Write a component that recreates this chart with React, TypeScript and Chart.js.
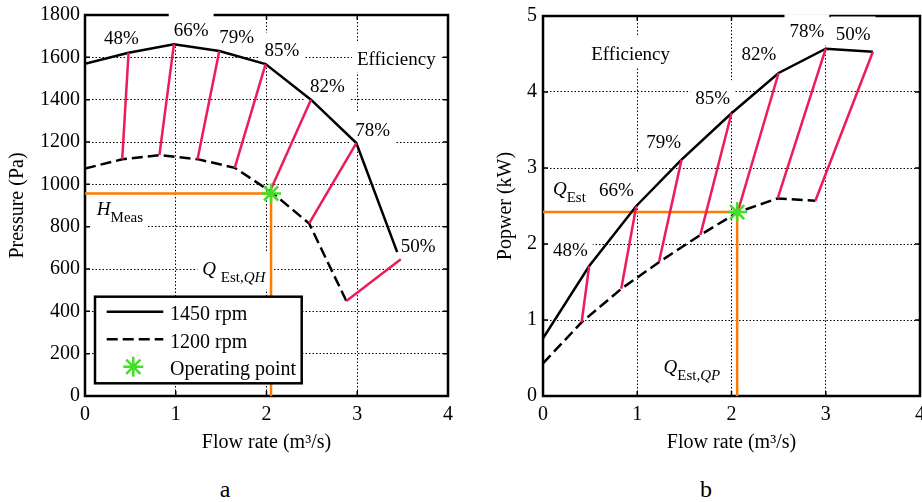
import React, { useEffect, useRef } from 'react';
import { Chart, registerables } from 'chart.js';
Chart.register(...registerables);

const SERIF = '"Liberation Serif", "Times New Roman", Times, serif';
const RED = 'rgb(236,28,88)';
const ORANGE = 'rgb(255,122,0)';
const GREEN = 'rgb(66,222,40)';

// ---------- shared ----------
const flowTicks = [0, 1, 2, 3, 4];
const effLabels = ['48%', '66%', '79%', '85%', '82%', '78%', '50%'];

// ---------- panel a : pressure ----------
const pressureTicks = [0, 200, 400, 600, 800, 1000, 1200, 1400, 1600, 1800];
const pQ1450 = [0, 0.48, 0.98, 1.48, 1.99, 2.49, 2.99, 3.44];
const pH1450 = [1570, 1622, 1662, 1630, 1568, 1400, 1195, 680];
const pQ1200 = [0, 0.41, 0.82, 1.24, 1.65, 2.05, 2.47, 2.88];
const pH1200 = [1075, 1118, 1138, 1119, 1078, 965, 815, 449];
const pEffTopQ = [0.48, 0.98, 1.48, 1.99, 2.49, 2.99, 3.48];
const pEffTopH = [1622, 1662, 1630, 1568, 1400, 1195, 646];
const pEffBotQ = [0.41, 0.82, 1.24, 1.65, 2.05, 2.47, 2.88];
const pEffBotH = [1118, 1138, 1119, 1078, 978, 815, 449];
const pEffLabelQ = [0.40, 1.17, 1.67, 2.17, 2.67, 3.17, 3.67];
const pEffLabelH = [1691, 1729, 1697, 1635, 1464, 1260, 712];
const pOpQ = [2.05];
const pOpH = [957];

// ---------- panel b : power ----------
const powerTicks = [0, 1, 2, 3, 4, 5];
const wQ1450 = [0, 0.49, 0.99, 1.47, 2.0, 2.5, 3.0, 3.5];
const wP1450 = [0.76, 1.71, 2.5, 3.11, 3.72, 4.25, 4.57, 4.53];
const wQ1200 = [0, 0.41, 0.83, 1.23, 1.67, 2.07, 2.49, 2.89];
const wP1200 = [0.43, 0.97, 1.41, 1.76, 2.12, 2.42, 2.60, 2.57];
const wEffTopQ = [0.49, 0.99, 1.47, 2.0, 2.5, 3.0, 3.5];
const wEffTopP = [1.71, 2.5, 3.11, 3.72, 4.25, 4.57, 4.53];
const wEffBotQ = [0.41, 0.83, 1.23, 1.67, 2.07, 2.49, 2.89];
const wEffBotP = [0.97, 1.41, 1.76, 2.12, 2.44, 2.60, 2.57];
const wEffLabelQ = [0.29, 0.78, 1.28, 1.80, 2.29, 2.80, 3.29];
const wEffLabelP = [1.92, 2.72, 3.34, 3.93, 4.51, 4.80, 4.77];
const wOpQ = [2.06];
const wOpP = [2.42];

type Part = { t: string; i?: boolean; s?: boolean };
type Label = { parts: Part[]; x: number; y: number; size: number };

const pLabels: Label[] = [
  ...effLabels.map((t, k) => ({ parts: [{ t }], x: pEffLabelQ[k], y: pEffLabelH[k], size: 19 })),
  { parts: [{ t: 'Efficiency' }], x: 3.43, y: 1595, size: 19 },
  { parts: [{ t: 'H', i: true }, { t: 'Meas', s: true }], x: 0.385, y: 883, size: 19 },
  { parts: [{ t: 'Q ', i: true }, { t: 'Est,', s: true }, { t: 'QH', s: true, i: true }], x: 1.64, y: 603, size: 19 },
];
const wLabels: Label[] = [
  ...effLabels.map((t, k) => ({ parts: [{ t }], x: wEffLabelQ[k], y: wEffLabelP[k], size: 19 })),
  { parts: [{ t: 'Efficiency' }], x: 0.93, y: 4.51, size: 19 },
  { parts: [{ t: 'Q', i: true }, { t: 'Est', s: true }], x: 0.28, y: 2.73, size: 19 },
  { parts: [{ t: 'Q', i: true }, { t: 'Est,', s: true }, { t: 'QP', s: true, i: true }], x: 1.58, y: 0.38, size: 19 },
];

function partFont(p: Part, size: number) {
  const sz = p.s ? Math.round(size * 0.8) : size;
  return `${p.i ? 'italic ' : ''}${sz}px ${SERIF}`;
}
function measureLabel(ctx: CanvasRenderingContext2D, lab: Label) {
  let w = 0;
  for (const p of lab.parts) {
    ctx.font = partFont(p, lab.size);
    w += ctx.measureText(p.t).width;
  }
  return w;
}
function drawLabel(ctx: CanvasRenderingContext2D, lab: Label, cx: number, cy: number) {
  const w = measureLabel(ctx, lab);
  let x = cx - w / 2;
  const base = cy + lab.size * 0.33;
  ctx.fillStyle = '#000';
  ctx.textAlign = 'left';
  ctx.textBaseline = 'alphabetic';
  for (const p of lab.parts) {
    ctx.font = partFont(p, lab.size);
    ctx.fillText(p.t, x, base + (p.s ? lab.size * 0.37 : 0));
    x += ctx.measureText(p.t).width;
  }
}
function drawStar(ctx: CanvasRenderingContext2D, x: number, y: number, r: number) {
  ctx.save();
  ctx.strokeStyle = GREEN;
  ctx.lineWidth = 2.5;
  ctx.beginPath();
  ctx.moveTo(x - r, y); ctx.lineTo(x + r, y);
  ctx.moveTo(x, y - r); ctx.lineTo(x, y + r);
  const d = r * Math.SQRT1_2;
  ctx.moveTo(x - d, y - d); ctx.lineTo(x + d, y + d);
  ctx.moveTo(x - d, y + d); ctx.lineTo(x + d, y - d);
  ctx.stroke();
  ctx.restore();
}

const pts = (xs: number[], ys: number[]) => xs.map((x, k) => ({ x, y: ys[k] }));

type Spec = {
  key: string;
  yTicks: number[];
  yTitle: string;
  yTitlePad: number;
  yTickPad: number;
  yAxisWidth: number;
  padTop: number;
  padRight: number;
  q1450: number[]; v1450: number[];
  q1200: number[]; v1200: number[];
  effTopQ: number[]; effTopV: number[]; effBotQ: number[]; effBotV: number[];
  opQ: number[]; opV: number[];
  labels: Label[];
  legend: boolean;
};

function buildConfig(spec: Spec): any {
  const font = { family: SERIF, size: 20 };
  const datasets: any[] = [
    {
      label: 'Operating point', data: pts(spec.opQ, spec.opV), showLine: false,
      pointStyle: 'star', pointRadius: 10, pointBorderColor: GREEN, pointBackgroundColor: GREEN,
      pointBorderWidth: 2.5, order: 0,
    },
    ...effLabels.map((t, k) => ({
      label: t,
      data: [{ x: spec.effTopQ[k], y: spec.effTopV[k] }, { x: spec.effBotQ[k], y: spec.effBotV[k] }],
      showLine: true, borderColor: RED, borderWidth: 2.5, pointRadius: 0, order: 1,
    })),
    { label: '1450 rpm', data: pts(spec.q1450, spec.v1450), showLine: true, borderColor: '#000', borderWidth: 2.5, pointRadius: 0, order: 2 },
    { label: '1200 rpm', data: pts(spec.q1200, spec.v1200), showLine: true, borderColor: '#000', borderWidth: 2.5, borderDash: [11, 5], pointRadius: 0, order: 3 },
    {
      label: 'estimate',
      data: [{ x: 0, y: spec.opV[0] }, { x: spec.opQ[0], y: spec.opV[0] }, { x: spec.opQ[0], y: 0 }],
      showLine: true, borderColor: ORANGE, borderWidth: 2.5, pointRadius: 0, order: 4,
    },
  ];

  const deco = {
    id: 'deco' + spec.key,
    beforeDatasetsDraw(chart: any) {
      const { ctx, chartArea: a, scales } = chart;
      ctx.save();
      ctx.strokeStyle = '#000';
      ctx.lineWidth = 1.5;
      ctx.beginPath();
      for (const t of scales.x.ticks) {
        const px = scales.x.getPixelForValue(t.value);
        ctx.moveTo(px, a.bottom); ctx.lineTo(px, a.bottom - 5);
        ctx.moveTo(px, a.top); ctx.lineTo(px, a.top + 5);
      }
      for (const t of scales.y.ticks) {
        const py = scales.y.getPixelForValue(t.value);
        ctx.moveTo(a.left, py); ctx.lineTo(a.left + 5, py);
        ctx.moveTo(a.right, py); ctx.lineTo(a.right - 5, py);
      }
      ctx.stroke();
      ctx.lineWidth = 2.5;
      ctx.strokeRect(a.left, a.top, a.right - a.left, a.bottom - a.top);
      ctx.fillStyle = '#fff';
      for (const lab of spec.labels) {
        const cx = scales.x.getPixelForValue(lab.x);
        const cy = scales.y.getPixelForValue(lab.y);
        const w = measureLabel(ctx, lab);
        const hasSub = lab.parts.some((p) => p.s);
        ctx.fillRect(cx - w / 2 - 5, cy - 17, w + 10, 31 + (hasSub ? 7 : 0));
      }
      ctx.restore();
    },
    afterDatasetsDraw(chart: any) {
      const { ctx, chartArea: a, scales } = chart;
      ctx.save();
      for (const lab of spec.labels) {
        drawLabel(ctx, lab, scales.x.getPixelForValue(lab.x), scales.y.getPixelForValue(lab.y));
      }
      if (spec.legend) {
        const L = a.left + 10;
        const T = a.bottom - 99.3;
        ctx.fillStyle = '#fff';
        ctx.fillRect(L, T, 206.7, 86.6);
        ctx.strokeStyle = '#000';
        ctx.lineWidth = 2.5;
        ctx.strokeRect(L, T, 206.7, 86.6);
        const rows = [T + 15, T + 42.6, T + 70];
        const names = [datasets[8].label, datasets[9].label, datasets[0].label];
        ctx.lineWidth = 2.5;
        ctx.beginPath();
        ctx.setLineDash([]);
        ctx.moveTo(L + 11.7, rows[0]); ctx.lineTo(L + 68.3, rows[0]);
        ctx.stroke();
        ctx.beginPath();
        ctx.setLineDash([11, 5]);
        ctx.moveTo(L + 11.7, rows[1]); ctx.lineTo(L + 68.3, rows[1]);
        ctx.stroke();
        ctx.setLineDash([]);
        drawStar(ctx, L + 38.3, rows[2], 10);
        ctx.fillStyle = '#000';
        ctx.font = `20px ${SERIF}`;
        ctx.textAlign = 'left';
        ctx.textBaseline = 'alphabetic';
        names.forEach((n, k) => ctx.fillText(n, L + 75, rows[k] + 2 + 6.6));
      }
      ctx.restore();
    },
  };

  const fmt = (v: any) => String(v);

  return {
    type: 'scatter',
    data: { datasets },
    plugins: [deco],
    options: {
      animation: false,
      responsive: false,
      events: [],
      layout: { autoPadding: false, padding: { left: 0, right: spec.padRight, top: spec.padTop, bottom: 0 } },
      plugins: { legend: { display: false }, tooltip: { enabled: false } },
      scales: {
        x: {
          type: 'linear',
          min: flowTicks[0],
          max: flowTicks[flowTicks.length - 1],
          afterBuildTicks: (s: any) => { s.ticks = flowTicks.map((v) => ({ value: v })); },
          ticks: { font, color: '#000', padding: 7, maxRotation: 0, autoSkip: false, callback: fmt },
          grid: { color: '#000', lineWidth: 1, drawTicks: false },
          border: { display: false, dash: [1.5, 2] },
          title: { display: true, text: 'Flow rate (m³/s)', font, color: '#000', padding: { top: 0, bottom: 5 } },
          afterFit: (s: any) => { s.height = 64; s.paddingLeft = 0; s.paddingRight = 0; },
        },
        y: {
          type: 'linear',
          min: spec.yTicks[0],
          max: spec.yTicks[spec.yTicks.length - 1],
          afterBuildTicks: (s: any) => { s.ticks = spec.yTicks.map((v) => ({ value: v })); },
          ticks: { font, color: '#000', padding: spec.yTickPad, autoSkip: false, callback: fmt },
          grid: { color: '#000', lineWidth: 1, drawTicks: false },
          border: { display: false, dash: [1.5, 2] },
          title: { display: true, text: spec.yTitle, font, color: '#000', padding: { top: spec.yTitlePad, bottom: 0 } },
          afterFit: (s: any) => { s.width = spec.yAxisWidth; s.paddingTop = 0; s.paddingBottom = 0; },
        },
      },
    },
  };
}

const specA: Spec = {
  key: 'a', yTicks: pressureTicks, yTitle: 'Pressure (Pa)', yTitlePad: 6, yTickPad: 5, yAxisWidth: 85,
  padTop: 15, padRight: 12,
  q1450: pQ1450, v1450: pH1450, q1200: pQ1200, v1200: pH1200,
  effTopQ: pEffTopQ, effTopV: pEffTopH, effBotQ: pEffBotQ, effBotV: pEffBotH,
  opQ: pOpQ, opV: pOpH, labels: pLabels, legend: true,
};
const specB: Spec = {
  key: 'b', yTicks: powerTicks, yTitle: 'Popwer (kW)', yTitlePad: 33.5, yTickPad: 6, yAxisWidth: 83,
  padTop: 16, padRight: 2,
  q1450: wQ1450, v1450: wP1450, q1200: wQ1200, v1200: wP1200,
  effTopQ: wEffTopQ, effTopV: wEffTopP, effBotQ: wEffBotQ, effBotV: wEffBotP,
  opQ: wOpQ, opV: wOpP, labels: wLabels, legend: false,
};

function Panel({ spec, left, width }: { spec: Spec; left: number; width: number }) {
  const ref = useRef<HTMLCanvasElement>(null);
  useEffect(() => {
    const chart = new Chart(ref.current as HTMLCanvasElement, buildConfig(spec));
    return () => chart.destroy();
  }, []);
  return (
    <canvas
      ref={ref}
      width={width}
      height={460}
      style={{ position: 'absolute', left, top: 0, width, height: 460 }}
    />
  );
}

export default function App() {
  const cap: React.CSSProperties = {
    position: 'absolute', top: 477, width: 40, textAlign: 'center',
    fontFamily: SERIF, fontSize: 24, lineHeight: '24px', color: '#000',
  };
  return (
    <div style={{ position: 'absolute', left: 0, top: 0, width: 922, height: 502, background: '#fff', overflow: 'hidden' }}>
      <Panel spec={specA} left={0} width={460} />
      <Panel spec={specB} left={460} width={462} />
      <div style={{ ...cap, left: 205 }}>a</div>
      <div style={{ ...cap, left: 686 }}>b</div>
    </div>
  );
}
